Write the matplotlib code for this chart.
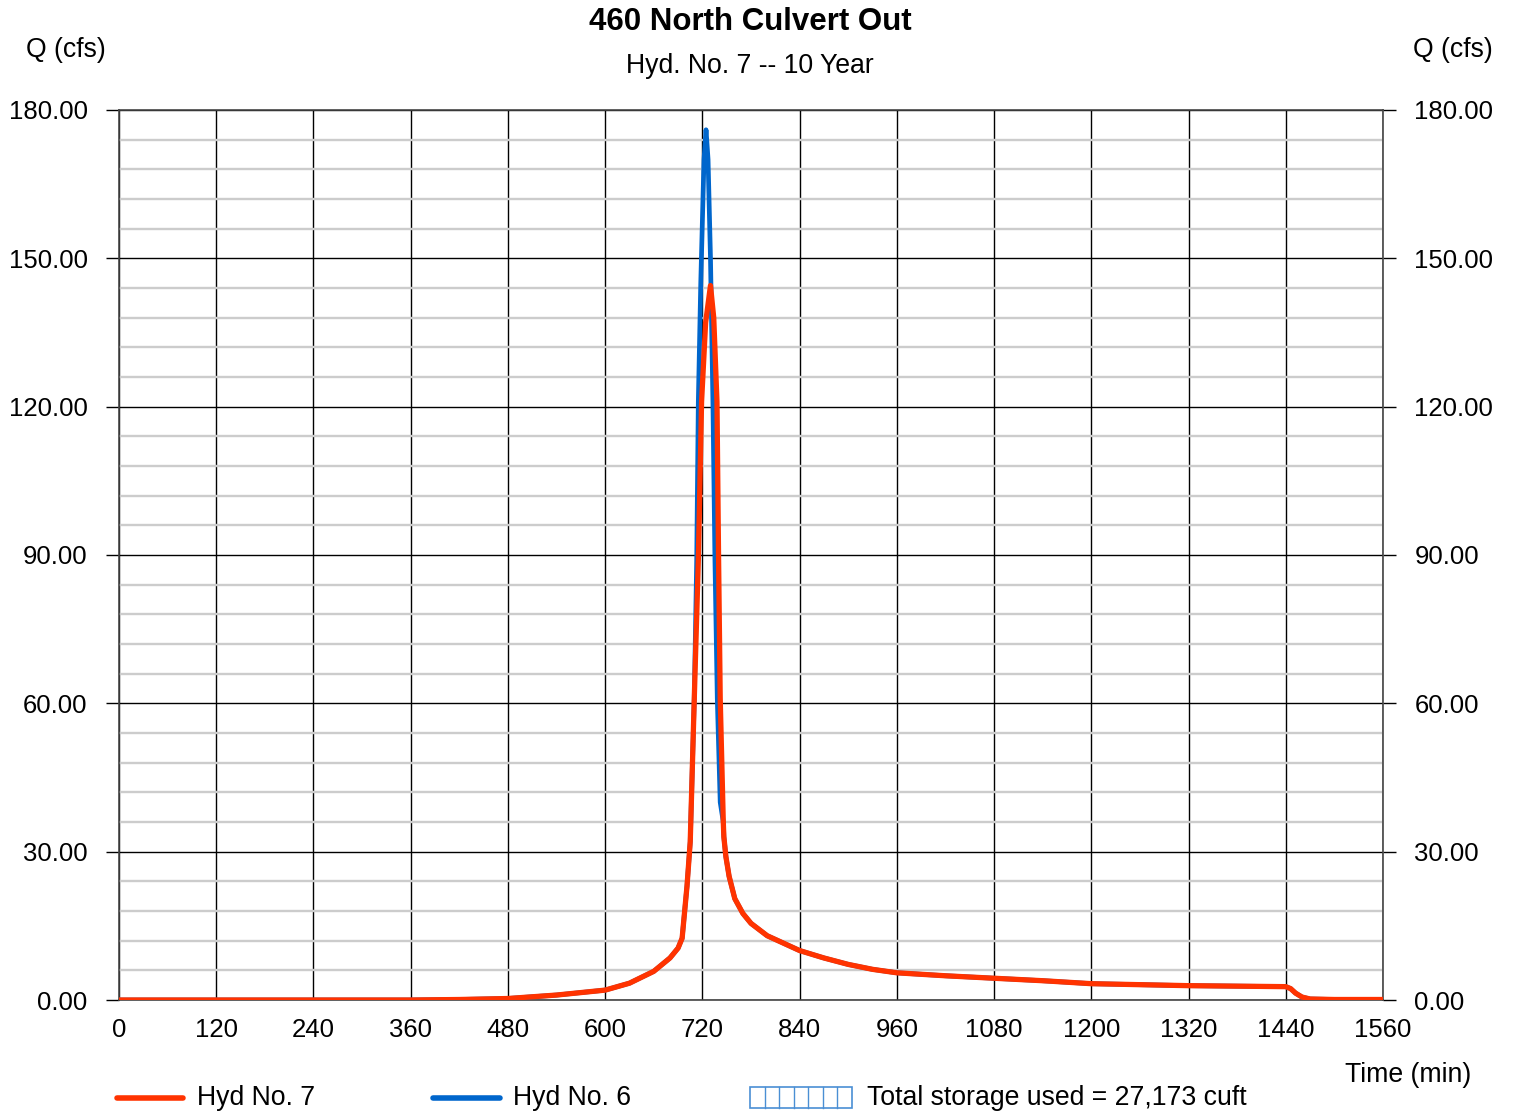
import numpy as np
import matplotlib.pyplot as plt
from matplotlib.lines import Line2D
from matplotlib.patches import Rectangle

plt.rcParams['font.family'] = ['Liberation Sans', 'DejaVu Sans']

# Hyd No. 7 (outflow)
red_t = [0, 360, 420, 480, 540, 600, 630, 660, 680, 690, 695, 701, 705, 710, 715, 719,
         724, 730, 734, 738, 740, 742, 745.8, 746.5, 749, 753, 760, 770, 780, 800, 820,
         840, 870, 900, 930, 960, 1020, 1080, 1140, 1200, 1260, 1320, 1380, 1440, 1446,
         1452, 1460, 1470, 1500, 1560]
red_v = [0, 0, 0.1, 0.3, 1.0, 2.0, 3.4, 5.8, 8.5, 10.5, 12.5, 23, 32, 61, 89, 121,
         137, 144.5, 138, 121, 89, 61, 36, 33, 29, 25, 20.5, 17.5, 15.5, 13, 11.5,
         10, 8.5, 7.2, 6.2, 5.5, 4.9, 4.4, 3.9, 3.3, 3.1, 2.9, 2.8, 2.7, 2.3,
         1.4, 0.6, 0.2, 0.1, 0.1]

# Hyd No. 6 (inflow)
blue_t = [0, 360, 420, 480, 540, 600, 630, 660, 680, 690, 695, 701, 705, 710, 713, 715,
          718, 722, 724.5, 727, 730, 733, 735.5, 738.4, 742, 745.8, 746.5, 749, 753, 760,
          770, 780, 800, 820, 840, 870, 900, 930, 960, 1020, 1080, 1140, 1200, 1260,
          1320, 1380, 1440, 1446, 1452, 1460, 1470, 1500, 1560]
blue_v = [0, 0, 0.1, 0.3, 1.0, 2.0, 3.4, 5.8, 8.5, 10.5, 12.5, 23, 32, 61, 89, 121,
          145, 170, 176, 170, 150, 121, 89, 61, 40, 36, 33, 29, 25, 20.5,
          17.5, 15.5, 13, 11.5, 10, 8.5, 7.2, 6.2, 5.5, 4.9, 4.4, 3.9, 3.3, 3.1,
          2.9, 2.8, 2.7, 2.3, 1.4, 0.6, 0.2, 0.1, 0.1]

x_ticks = np.arange(0, 1561, 120)
y_ticks = np.arange(0, 181, 30)

fig = plt.figure(figsize=(15.13, 11.12), dpi=100)
ax = fig.add_axes([119 / 1513, 1 - 1000 / 1112, 1264 / 1513, 890 / 1112])

ax.plot(blue_t, blue_v, color='#0066cc', lw=3.4, solid_capstyle='round', zorder=3)
ax.plot(red_t, red_v, color='#ff3300', lw=3.8, solid_capstyle='round', zorder=4)

ax.set_xlim(0, 1560)
ax.set_ylim(0, 180)
ax.set_xticks(x_ticks)
ax.set_yticks(y_ticks)
ax.set_yticks(np.arange(0, 181, 6), minor=True)
ax.set_yticklabels([f'{v:.2f}' for v in y_ticks])

ax.grid(which='major', axis='both', color='black', lw=1.0, zorder=1)
ax.grid(which='minor', axis='y', color='#cccccc', lw=1.7, zorder=0)
ax.tick_params(axis='y', which='major', left=True, right=True, labelleft=True,
               labelright=True, length=9.5, width=1.0, direction='out', pad=13,
               labelsize=18.5)
ax.tick_params(axis='y', which='minor', length=0)
ax.tick_params(axis='x', length=0, pad=13, labelsize=18.5)
for s in ax.spines.values():
    s.set_color('#444444')
    s.set_linewidth(1.2)

fig.text(750 / 1513, 1 - 22 / 1112, '460 North Culvert Out', ha='center', va='center',
         fontsize=22.5, fontweight='bold')
fig.text(750 / 1513, 1 - 66 / 1112, 'Hyd. No. 7 -- 10 Year', ha='center', va='center',
         fontsize=19.2)
fig.text(66 / 1513, 1 - 50 / 1112, 'Q (cfs)', ha='center', va='center', fontsize=19.2)
fig.text(1453 / 1513, 1 - 50 / 1112, 'Q (cfs)', ha='center', va='center', fontsize=19.2)
fig.text(1408 / 1513, 1 - 1075 / 1112, 'Time (min)', ha='center', va='center',
         fontsize=19.2)

# legend
ly = 1 - 1098 / 1112
fig.add_artist(Line2D([117 / 1513, 183 / 1513], [ly, ly], color='#ff3300', lw=4,
                      solid_capstyle='round'))
fig.text(197 / 1513, ly, 'Hyd No. 7', va='center', fontsize=19.2)
fig.add_artist(Line2D([433 / 1513, 500 / 1513], [ly, ly], color='#0066cc', lw=4,
                      solid_capstyle='round'))
fig.text(513 / 1513, ly, 'Hyd No. 6', va='center', fontsize=19.2)
bx0, bx1 = 750 / 1513, 852 / 1513
by0, by1 = 1 - 1108 / 1112, 1 - 1087 / 1112
fig.add_artist(Rectangle((bx0, by0), bx1 - bx0, by1 - by0, facecolor='white',
                         edgecolor='#4a8fd4', lw=1.2))
for xv in np.linspace(bx0, bx1, 8)[1:-1]:
    fig.add_artist(Line2D([xv, xv], [by0, by1], color='#4a8fd4', lw=1.0))
fig.text(867 / 1513, ly, 'Total storage used = 27,173 cuft', va='center', fontsize=19.2)

fig.savefig('out.png', dpi=100)
